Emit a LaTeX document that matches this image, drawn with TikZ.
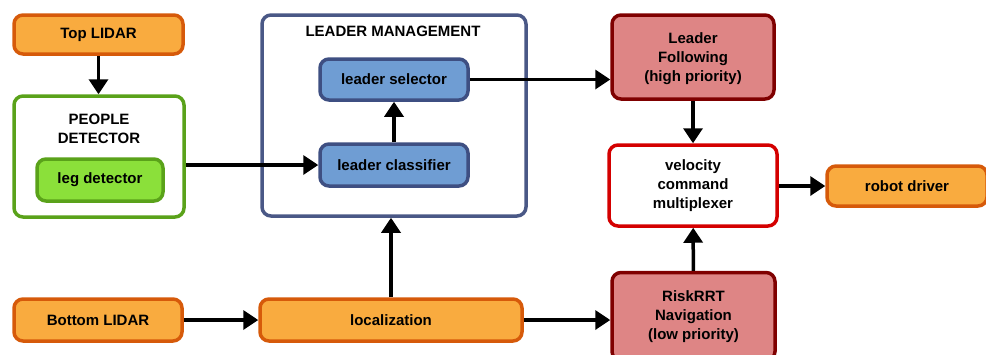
\documentclass[tikz,border=0pt]{standalone}
\usepackage{fontspec}
\setmainfont{Liberation Sans}
\usetikzlibrary{arrows.meta}
\definecolor{orfill}{HTML}{F9AB3F}
\definecolor{ordraw}{HTML}{D65A0A}
\definecolor{grdraw}{HTML}{5AA21A}
\definecolor{grfill}{HTML}{8BE03A}
\definecolor{blfill}{HTML}{6F9DD3}
\definecolor{bldraw}{HTML}{3E4F82}
\definecolor{lmdraw}{HTML}{4A5886}
\definecolor{rdfill}{HTML}{DE8585}
\definecolor{rddraw}{HTML}{7F0000}
\definecolor{vcdraw}{HTML}{D40000}
\tikzset{
  box/.style={rounded corners=9pt, line width=3.5pt, align=center, inner sep=0pt,
    font=\fontsize{15}{19}\selectfont\bfseries},
  orbox/.style={box, draw=ordraw, fill=orfill},
  blbox/.style={box, draw=bldraw, fill=blfill},
  rdbox/.style={box, draw=rddraw, fill=rdfill},
  title/.style={align=center, inner sep=0pt, font=\fontsize{15}{19}\selectfont\bfseries},
  arr/.style={line width=3.5pt, -{Triangle[length=15pt,width=19pt]}}
}
\begin{document}
\begin{tikzpicture}[x=1pt,y=-1pt]
\useasboundingbox (0,0) rectangle (986,354);
% containers
\node[box, draw=grdraw, fill=white, minimum width=170pt, minimum height=121pt] (pd) at (99,156.5) {};
\node[title] (pdt) at (99,129) {PEOPLE\\DETECTOR};
\node[box, draw=lmdraw, fill=white, minimum width=264pt, minimum height=201pt] (lm) at (394,115.5) {};
\node[title] (lmt) at (393,31) {LEADER MANAGEMENT};
% boxes
\node[orbox, minimum width=169pt, minimum height=39pt] (top) at (98.5,34.5) {Top LIDAR};
\node[box, draw=grdraw, fill=grfill, minimum width=126pt, minimum height=42pt] (leg) at (100,180) {leg detector};
\node[blbox, minimum width=148pt, minimum height=41pt] (sel) at (394,79.5) {leader selector};
\node[blbox, minimum width=148pt, minimum height=42pt] (cls) at (394,165) {leader classifier};
\node[rdbox, minimum width=162pt, minimum height=84pt, text height=53pt, text depth=3.5pt] (lf) at (693,57) {Leader\\Following\\(high priority)};
\node[box, draw=vcdraw, fill=white, minimum width=168pt, minimum height=81pt] (vc) at (693,185.5) {velocity\\command\\multiplexer};
\node[orbox, minimum width=160pt, minimum height=40pt] (rd) at (907,186) {robot driver};
\node[orbox, minimum width=168pt, minimum height=42pt] (bl) at (98,320) {Bottom LIDAR};
\node[orbox, minimum width=262pt, minimum height=42pt] (loc) at (391,320) {localization};
\node[rdbox, minimum width=163pt, minimum height=88pt] (rr) at (693.5,316.5) {RiskRRT\\Navigation\\(low priority)};
% connectors
\draw[arr] (top.south) -- (top.south |- pd.north);
\draw[arr] (pd.east |- cls.west) -- (cls.west);
\draw[arr] (cls) -- (sel);
\draw[arr] (sel.east) -- (sel.east -| lf.west);
\draw[arr] (lf) -- (vc);
\draw[arr] (vc.east |- rd.west) -- (rd.west);
\draw[arr] (bl) -- (loc);
\draw[arr] (loc.north) -- (loc.north |- lm.south);
\draw[arr] (loc.east) -- (loc.east -| rr.west);
\draw[arr] (rr) -- (vc);
\end{tikzpicture}
\end{document}
